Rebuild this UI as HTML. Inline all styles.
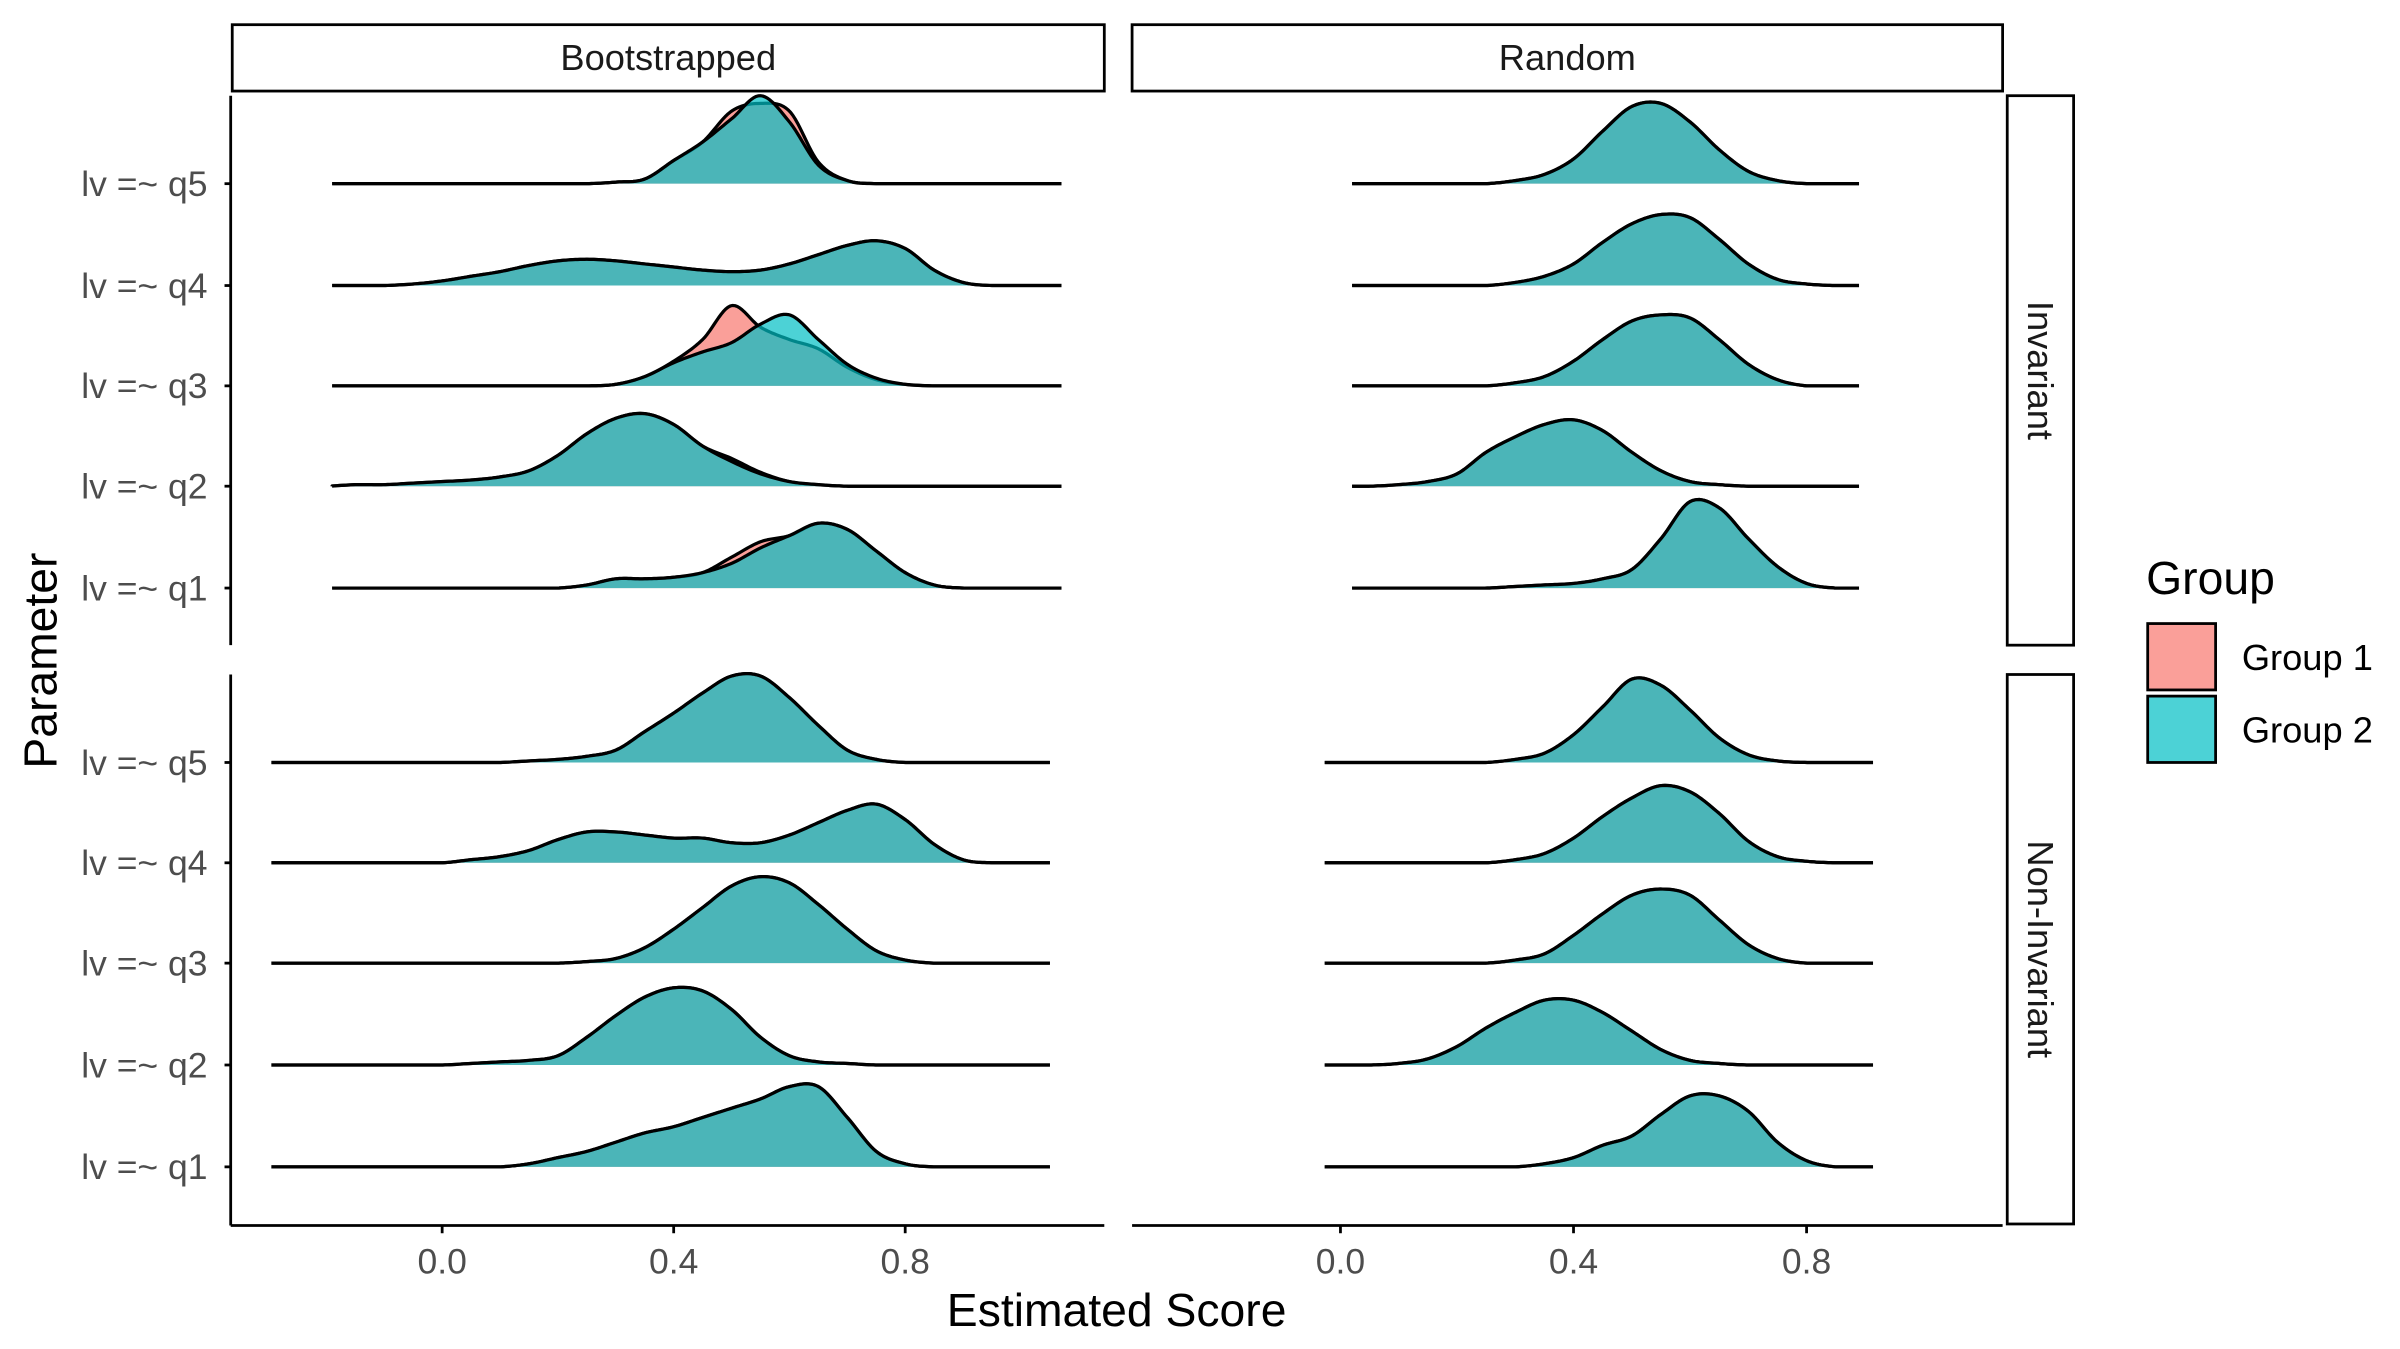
<!DOCTYPE html>
<html><head><meta charset="utf-8"><style>
html,body{margin:0;padding:0;background:#fff;}
svg{display:block;font-family:"Liberation Sans",Arial,sans-serif;}
</style></head><body>
<svg id="chart" width="2400" height="1349" viewBox="0 0 1554 874" xmlns="http://www.w3.org/2000/svg">
<rect width="1554" height="874" fill="#fff"/>
<g id="marks"></g>
<g id="frame"></g>
</svg>
<script>
// x grid of densities: -0.3 .. 1.1 step 0.05
const xGrid = [-0.3,-0.25,-0.2,-0.15,-0.1,-0.05,0,0.05,0.1,0.15,0.2,0.25,0.3,0.35,0.4,0.45,0.5,0.55,0.6,0.65,0.7,0.75,0.8,0.85,0.9,0.95,1.0,1.05,1.1];
const parameters = ["lv =~ q5","lv =~ q4","lv =~ q3","lv =~ q2","lv =~ q1"];
const xTicks = [0.0,0.4,0.8];
const xTickLabels = ["0.0","0.4","0.8"];
const groups = ["Group 1","Group 2"];

// Bootstrapped / Invariant
const bi_q5_g1 = [0,0,0,0,0,0,0,0,0,0,0,0,1,3,15,27,47,52,47,14,2,0,0,0,0,0,0,0,0];
const bi_q5_g2 = [0,0,0,0,0,0,0,0,0,0,0,0,1,3,15,27,42,57,40,12,2,0,0,0,0,0,0,0,0];
const bi_q4_g1 = [0,0,0,0,0,1,3,6,9,13,16,17,16,14,12,10,9,10,14,20,26,29,24,10,2,0,0,0,0];
const bi_q4_g2 = [0,0,0,0,0,1,3,6,9,13,16,17,16,14,12,10,9,10,14,20,26,29,24,10,2,0,0,0,0];
const bi_q3_g1 = [0,0,0,0,0,0,0,0,0,0,0,0,1,6,16,30,52,38,30,24,12,4,1,0,0,0,0,0,0];
const bi_q3_g2 = [0,0,0,0,0,0,0,0,0,0,0,0,1,6,15,22,28,40,46,30,14,5,1,0,0,0,0,0,0];
const bi_q2_g1 = [0,0,0,1,1,2,3,4,6,10,20,34,44,47,40,26,18,9,3,1,0,0,0,0,0,0,0,0,0];
const bi_q2_g2 = [0,0,0,1,1,2,3,4,6,10,20,34,44,47,40,26,16,8,3,1,0,0,0,0,0,0,0,0,0];
const bi_q1_g1 = [0,0,0,0,0,0,0,0,0,0,0,2,6,6,7,10,20,30,34,42,38,24,10,2,0,0,0,0,0];
const bi_q1_g2 = [0,0,0,0,0,0,0,0,0,0,0,2,6,6,7,10,16,26,34,42,38,24,10,2,0,0,0,0,0];
// Bootstrapped / Non-Invariant
const bn_q5 = [0,0,0,0,0,0,0,0,0,1,2,4,8,20,32,45,56,56,42,24,8,2,0,0,0,0,0,0,0];
const bn_q4 = [0,0,0,0,0,0,0,2,4,8,15,20,20,18,16,16,13,13,18,26,34,38,28,12,2,0,0,0,0];
const bn_q3 = [0,0,0,0,0,0,0,0,0,0,0,1,3,10,22,36,50,56,52,38,22,8,2,0,0,0,0,0,0];
const bn_q2 = [0,0,0,0,0,0,0,1,2,3,6,18,32,44,50,48,36,18,6,2,1,0,0,0,0,0,0,0,0];
const bn_q1 = [0,0,0,0,0,0,0,0,0,2,6,10,16,22,26,32,38,44,52,52,32,10,2,0,0,0,0,0,0];
// Random / Invariant
const ri_q5 = [0,0,0,0,0,0,0,0,0,0,0,0,2,6,16,34,50,52,40,22,8,2,0,0,0,0,0,0,0];
const ri_q4 = [0,0,0,0,0,0,0,0,0,0,0,0,2,6,14,28,40,46,44,30,14,4,1,0,0,0,0,0,0];
const ri_q3 = [0,0,0,0,0,0,0,0,0,0,0,0,2,6,16,30,42,46,44,30,14,4,0,0,0,0,0,0,0];
const ri_q2 = [0,0,0,0,0,0,0,0,1,3,8,22,32,40,43,36,22,10,3,1,0,0,0,0,0,0,0,0,0];
const ri_q1 = [0,0,0,0,0,0,0,0,0,0,0,0,1,2,3,6,12,32,56,52,32,14,3,0,0,0,0,0,0];
// Random / Non-Invariant
const rn_q5 = [0,0,0,0,0,0,0,0,0,0,0,0,2,6,18,36,54,50,34,16,5,1,0,0,0,0,0,0,0];
const rn_q4 = [0,0,0,0,0,0,0,0,0,0,0,0,2,6,16,30,42,50,46,32,14,4,1,0,0,0,0,0,0];
const rn_q3 = [0,0,0,0,0,0,0,0,0,0,0,0,2,6,18,32,44,48,44,28,12,3,0,0,0,0,0,0,0];
const rn_q2 = [0,0,0,0,0,0,0,0,1,4,12,24,34,42,42,34,22,10,3,1,0,0,0,0,0,0,0,0,0];
const rn_q1 = [0,0,0,0,0,0,0,0,0,0,0,0,0,2,6,14,20,34,46,46,36,16,4,0,0,0,0,0,0];

const NS="http://www.w3.org/2000/svg";
const marks=document.getElementById('marks'), frame=document.getElementById('frame');
function el(tag,attrs,parent){const e=document.createElementNS(NS,tag);for(const k in attrs)e.setAttribute(k,attrs[k]);(parent||marks).appendChild(e);return e;}

const panels=[
 {name:'bootstrapped-invariant',x0:286,x1:436,xmin:-0.19,xmax:1.07,base:[119,185,250,315,381],g1:[bi_q5_g1,bi_q4_g1,bi_q3_g1,bi_q2_g1,bi_q1_g1],g2:[bi_q5_g2,bi_q4_g2,bi_q3_g2,bi_q2_g2,bi_q1_g2]},
 {name:'bootstrapped-non-invariant',x0:286,x1:436,xmin:-0.295,xmax:1.05,base:[494,559,624,690,756],g1:[bn_q5,bn_q4,bn_q3,bn_q2,bn_q1],g2:[bn_q5,bn_q4,bn_q3,bn_q2,bn_q1]},
 {name:'random-invariant',x0:868,x1:1019,xmin:0.02,xmax:0.89,base:[119,185,250,315,381],g1:[ri_q5,ri_q4,ri_q3,ri_q2,ri_q1],g2:[ri_q5,ri_q4,ri_q3,ri_q2,ri_q1]},
 {name:'random-non-invariant',x0:868,x1:1019,xmin:-0.027,xmax:0.914,base:[494,559,624,690,756],g1:[rn_q5,rn_q4,rn_q3,rn_q2,rn_q1],g2:[rn_q5,rn_q4,rn_q3,rn_q2,rn_q1]}
];
const step=xGrid[1]-xGrid[0];
function dens(arr,x){
  const t=(x-xGrid[0])/step;let i=Math.floor(t);const f=t-i;
  const g=k=>arr[Math.max(0,Math.min(arr.length-1,k))]||0;
  const p0=g(i-1),p1=g(i),p2=g(i+1),p3=g(i+2);
  const v=0.5*((2*p1)+(-p0+p2)*f+(2*p0-5*p1+4*p2-p3)*f*f+(-p0+3*p1-3*p2+p3)*f*f*f);
  return Math.max(0,v);
}
function ridgePath(p,arr,base){
  const sx=x=>p.x0+(x-0)*(p.x1-p.x0)/0.4;
  let d='M'+sx(p.xmin).toFixed(2)+','+base;
  for(let x=p.xmin;x<=p.xmax+1e-9;x+=0.004){d+=' L'+sx(x).toFixed(2)+','+(base-dens(arr,x)).toFixed(2);}
  d+=' L'+sx(p.xmax).toFixed(2)+','+base;
  return d;
}
panels.forEach(p=>{
  for(let r=0;r<5;r++){
    const a=el('path',{d:ridgePath(p,p.g1[r],p.base[r]),fill:'#F8766D','fill-opacity':0.7,stroke:'#000','stroke-width':2.1,'stroke-linejoin':'round'});
    
    
    const b=el('path',{d:ridgePath(p,p.g2[r],p.base[r]),fill:'#00BFC4','fill-opacity':0.7,stroke:'#000','stroke-width':2.1,'stroke-linejoin':'round'});
    
    
  }
});

function line(x1,y1,x2,y2,name){const l=el('line',{x1,y1,x2,y2,stroke:'#000','stroke-width':1.8},frame);return l;}
function text(x,y,s,size,fill,anchor,name,extra){const t=el('text',Object.assign({x,y,'font-size':size,fill,'text-anchor':anchor},extra||{}),frame);t.textContent=s;return t;}
line(149,62,149,418,'y-axis-line-top');
line(149,437,149,794,'y-axis-line-bottom');
line(149,794,715,794,'x-axis-line-left');
line(733,794,1297,794,'x-axis-line-right');
[[119,185,250,315,381],[494,559,624,690,756]].forEach((rows,ri)=>rows.forEach((y,i)=>{
  line(145,y,149,y,'y-tick');
  text(134,y+8,parameters[i],23,'#4d4d4d','end','y-tick-label');
}));
[[286,436],[868,1019]].forEach(([a,b])=>xTicks.forEach((v,i)=>{
  const x=a+v*(b-a)/0.4;
  line(x,794,x,799,'x-tick');
  text(x,825,xTickLabels[i],23,'#4d4d4d','middle','x-tick-label');
}));
function strip(x,y,w,h,label,rot,name){
  const r=el('rect',{x,y,width:w,height:h,fill:'#fff',stroke:'#000','stroke-width':1.8},frame);
  
  if(rot){text(x+w/2,y+h/2,label,23.5,'#1a1a1a','middle',name+'-label',{transform:`rotate(90 ${x+w/2} ${y+h/2})`,dy:'8'});}
  else text(x+w/2,y+h/2+8,label,23.5,'#1a1a1a','middle',name+'-label');
}
strip(150,16,565,43,'Bootstrapped',false,'strip-bootstrapped');
strip(733,16,564,43,'Random',false,'strip-random');
strip(1300,62,43,356,'Invariant',true,'strip-invariant');
strip(1300,437,43,356,'Non-Invariant',true,'strip-non-invariant');
text(723,859,'Estimated Score',30,'#000','middle','x-axis-title');
text(36,428,'Parameter',30,'#000','middle','y-axis-title',{transform:'rotate(-90 36 428)'});
text(1390,385,'Group',30,'#000','start','legend-title');
[['#F8766D',404,groups[0]],['#00BFC4',451,groups[1]]].forEach(([c,y,l],i)=>{
  const r=el('rect',{x:1391,y,width:44,height:43,fill:c,'fill-opacity':0.7,stroke:'#000','stroke-width':1.8},frame);
  
  text(1452,y+30,l,23.5,'#000','start','legend-label-group'+(i+1));
});
</script>
</body></html>
